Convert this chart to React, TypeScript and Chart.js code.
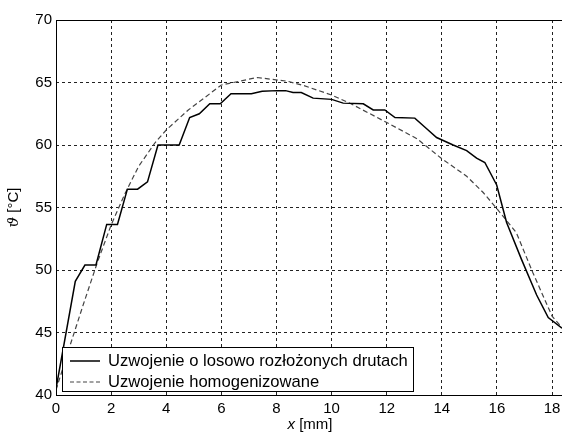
import { useEffect, useRef } from "react";
import { Chart, registerables } from "chart.js";

Chart.register(...registerables);

// Series 1: Uzwojenie o losowo rozłożonych drutach (solid)
const solidX = [0, 0.7, 1.05, 1.45, 1.84, 2.23, 2.59, 2.96, 3.32, 3.7, 4.47, 4.85, 5.2, 5.58, 5.96, 6.35, 7.09, 7.48, 8.02, 8.33, 8.6, 8.9, 9.33, 10.0, 10.42, 11.15, 11.51, 11.93, 12.3, 13.02, 13.45, 13.81, 14.41, 14.9, 15.26, 15.56, 15.99, 16.35, 16.89, 17.44, 17.86, 18.36];
const solidY = [40.5, 49.1, 50.4, 50.4, 53.65, 53.65, 56.47, 56.47, 57.05, 60.0, 60.0, 62.2, 62.5, 63.3, 63.3, 64.1, 64.1, 64.3, 64.35, 64.35, 64.2, 64.2, 63.75, 63.65, 63.35, 63.3, 62.8, 62.8, 62.2, 62.15, 61.3, 60.6, 60.0, 59.55, 58.95, 58.6, 56.8, 53.8, 50.85, 48.0, 46.2, 45.35];

// Series 2: Uzwojenie homogenizowane (dashed)
const dashedX = [0, 0.5, 1.0, 1.5, 2.0, 2.5, 3.0, 3.6, 4.0, 4.8, 6.0, 7.3, 8.4, 9.0, 10.0, 10.7, 12.0, 13.1, 14.0, 14.9, 15.5, 16.0, 16.7, 17.3, 18.0, 18.36];
const dashedY = [40.4, 43.9, 47.3, 50.6, 53.6, 56.1, 58.3, 60.2, 61.2, 62.8, 64.8, 65.4, 65.1, 64.75, 64.0, 63.3, 61.8, 60.5, 58.9, 57.5, 56.2, 54.9, 53.0, 49.8, 46.3, 45.4];

const seriesLabels = ["Uzwojenie o losowo rozłożonych drutach", "Uzwojenie homogenizowane"];
const xTicks = [0, 2, 4, 6, 8, 10, 12, 14, 16, 18];
const yTicks = [40, 45, 50, 55, 60, 65, 70];
const xRange = [0, 18.36];
const yRange = [40, 70];
const xTitleParts = ["x", " [mm]"];
const yTitleParts = ["ϑ", " [°C]"];

const FONT = "'Liberation Sans', Arial, sans-serif";

const framePlugin = {
  id: "frameAndLegend",
  afterDatasetsDraw(chart: any) {
    const { ctx, chartArea: ca } = chart;
    ctx.save();
    // frame
    ctx.strokeStyle = "#000";
    ctx.lineWidth = 1;
    ctx.setLineDash([]);
    ctx.strokeRect(ca.left + 0.5, ca.top + 0.5, ca.right - ca.left, ca.bottom - ca.top);

    // legend box
    const lx = ca.left + 6;
    const ly = ca.bottom - 48;
    const lw = 351;
    const lh = 44;
    ctx.fillStyle = "#fff";
    ctx.fillRect(lx, ly, lw, lh);
    ctx.strokeStyle = "#000";
    ctx.lineWidth = 1;
    ctx.strokeRect(lx + 0.5, ly + 0.5, lw, lh);

    const rows = [ly + 14, ly + 35];
    const styles = [
      { color: "#000", dash: [] as number[], width: 1.5 },
      { color: "#444", dash: [4, 2.5], width: 1.2 },
    ];
    rows.forEach((ry, i) => {
      ctx.beginPath();
      ctx.strokeStyle = styles[i].color;
      ctx.lineWidth = styles[i].width;
      ctx.setLineDash(styles[i].dash);
      ctx.moveTo(lx + 8, ry);
      ctx.lineTo(lx + 38, ry);
      ctx.stroke();
      ctx.setLineDash([]);
      ctx.fillStyle = "#000";
      ctx.font = `16.6px ${FONT}`;
      ctx.textBaseline = "middle";
      ctx.textAlign = "left";
      ctx.fillText(seriesLabels[i], lx + 46, ry + 0.5);
    });
    ctx.restore();
  },
  afterDraw(chart: any) {
    const { ctx, chartArea: ca } = chart;
    ctx.save();
    ctx.fillStyle = "#000";
    ctx.textBaseline = "middle";
    // x title
    const f1 = `italic 15px ${FONT}`;
    const f2 = `15px ${FONT}`;
    ctx.font = f1;
    const w1 = ctx.measureText(xTitleParts[0]).width;
    ctx.font = f2;
    const w2 = ctx.measureText(xTitleParts[1]).width;
    const cx = (ca.left + ca.right) / 2 + 1;
    let sx = cx - (w1 + w2) / 2;
    ctx.textAlign = "left";
    ctx.font = f1;
    ctx.fillText(xTitleParts[0], sx, 425);
    ctx.font = f2;
    ctx.fillText(xTitleParts[1], sx + w1, 425);

    // y title rotated
    ctx.translate(14, (ca.top + ca.bottom) / 2);
    ctx.rotate(-Math.PI / 2);
    const g1 = `italic 15px 'DejaVu Serif', serif`;
    ctx.font = g1;
    const v1 = ctx.measureText(yTitleParts[0]).width;
    ctx.font = f2;
    const v2 = ctx.measureText(yTitleParts[1]).width;
    let sy = -(v1 + v2) / 2;
    ctx.font = g1;
    ctx.fillText(yTitleParts[0], sy, 0);
    ctx.font = f2;
    ctx.fillText(yTitleParts[1], sy + v1, 0);
    ctx.restore();
  },
};

export default function App() {
  const ref = useRef<HTMLCanvasElement | null>(null);

  useEffect(() => {
    if (!ref.current) return;
    const chart = new Chart(ref.current, {
      type: "line",
      data: {
        datasets: [
          {
            label: seriesLabels[0],
            data: solidX.map((x, i) => ({ x, y: solidY[i] })),
            borderColor: "#000",
            borderWidth: 1.5,
            pointRadius: 0,
            tension: 0,
            fill: false,
          },
          {
            label: seriesLabels[1],
            data: dashedX.map((x, i) => ({ x, y: dashedY[i] })),
            borderColor: "#444",
            borderWidth: 1.2,
            borderDash: [5, 3],
            pointRadius: 0,
            tension: 0,
            fill: false,
          },
        ],
      },
      options: {
        animation: false,
        responsive: false,
        devicePixelRatio: 1,
        layout: { padding: { top: 20, right: 0, bottom: 0, left: 0 } },
        plugins: {
          legend: { display: false },
          tooltip: { enabled: false },
        },
        scales: {
          x: {
            type: "linear",
            min: xRange[0],
            max: xRange[1],
            afterBuildTicks: (scale: any) => {
              scale.ticks = xTicks.map((v) => ({ value: v }));
            },
            afterFit: (scale: any) => {
              scale.height = 38;
              scale.paddingLeft = 0;
              scale.paddingRight = 0;
            },
            ticks: {
              color: "#000",
              font: { family: FONT, size: 15 },
              padding: 5,
              maxRotation: 0,
              autoSkip: false,
            },
            grid: { color: "#222", lineWidth: 1, drawTicks: false },
            border: { display: false, dash: [3, 3] },
          },
          y: {
            type: "linear",
            min: yRange[0],
            max: yRange[1],
            afterBuildTicks: (scale: any) => {
              scale.ticks = yTicks.map((v) => ({ value: v }));
            },
            afterFit: (scale: any) => {
              scale.width = 56;
              scale.paddingTop = 0;
              scale.paddingBottom = 0;
            },
            ticks: {
              color: "#000",
              font: { family: FONT, size: 15 },
              padding: 4,
              autoSkip: false,
            },
            grid: { color: "#222", lineWidth: 1, drawTicks: false },
            border: { display: false, dash: [3, 3] },
          },
        },
      },
      plugins: [framePlugin],
    });
    return () => chart.destroy();
  }, []);

  return (
    <div style={{ position: "absolute", left: 0, top: 0, width: 562, height: 433, background: "#fff" }}>
      <canvas ref={ref} width={562} height={433} style={{ display: "block" }} />
    </div>
  );
}
